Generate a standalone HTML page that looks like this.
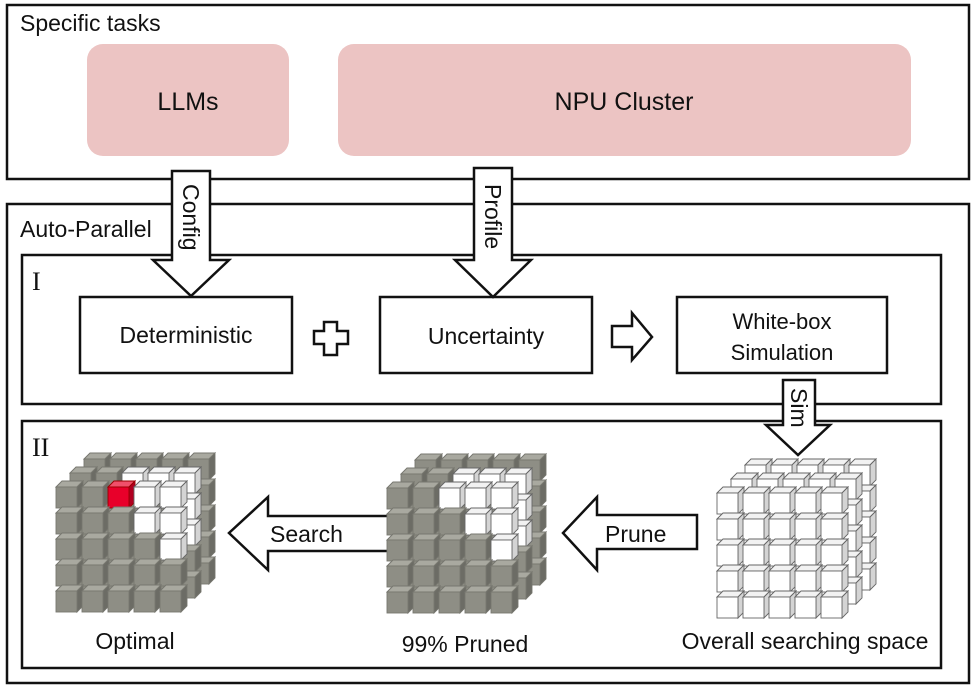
<!DOCTYPE html>
<html><head><meta charset="utf-8"><style>
html,body{margin:0;padding:0;background:#fff}
svg{display:block}
text{font-family:"Liberation Sans","DejaVu Sans",sans-serif;fill:#111}
</style></head><body>
<svg id="s" width="979" height="689" viewBox="0 0 979 689" xmlns="http://www.w3.org/2000/svg">
<g fill="none" stroke="#111" stroke-width="2.5">
<rect x="7" y="5" width="962" height="174"/>
<rect x="7" y="204" width="962" height="479"/>
<rect x="22" y="255" width="919" height="149"/>
<rect x="22" y="421" width="919" height="247"/>
</g>
<rect x="87" y="44" width="202" height="112" rx="16" fill="#ecc4c3"/>
<rect x="338" y="44" width="573" height="112" rx="16" fill="#ecc4c3"/>
<text x="188" y="110" font-size="25" text-anchor="middle">LLMs</text>
<text x="624" y="110" font-size="25" text-anchor="middle">NPU Cluster</text>
<text x="20" y="31" font-size="23">Specific tasks</text>
<text x="20" y="237" font-size="23">Auto-Parallel</text>
<text x="32" y="290" font-size="26" style="font-family:'Liberation Serif',serif">I</text>
<text x="32" y="456" font-size="26" style="font-family:'Liberation Serif',serif">II</text>
<g fill="#fff" stroke="#111" stroke-width="2.5">
<rect x="80" y="297" width="212" height="76"/>
<rect x="380" y="297" width="212" height="76"/>
<rect x="677" y="297" width="210" height="76"/>
<polygon points="172,171 210,171 210,260 229,260 191,296 153,260 172,260"/>
<polygon points="474,168 512,168 512,260 531,260 493,297 455,260 474,260"/>
<polygon points="783,380 815,380 815,425 830,425 798,455 766,425 783,425"/>
<polygon points="697,515 697,549 597,549 597,570 563,533 597,497 597,515"/>
<polygon points="393,516 393,551 268,551 268,570 229,533 268,497 268,516"/>
<polygon points="612,326 632,326 632,313 652,337 632,360 632,347 612,347"/>
<polygon points="324,322 337,322 337,331 348,331 348,344 337,344 337,355 324,355 324,344 314,344 314,331 324,331"/>
</g>
<text x="186" y="343" font-size="23" text-anchor="middle">Deterministic</text>
<text x="486" y="344" font-size="23" text-anchor="middle">Uncertainty</text>
<text x="782" y="329" font-size="22" text-anchor="middle">White-box</text>
<text x="782" y="360" font-size="22" text-anchor="middle">Simulation</text>
<text font-size="23" transform="translate(183,184) rotate(90)">Config</text>
<text font-size="23" transform="translate(485,184) rotate(90)">Profile</text>
<text font-size="23" transform="translate(791,388) rotate(90)">Sim</text>
<text x="605" y="542" font-size="23">Prune</text>
<text x="270" y="542" font-size="23">Search</text>
<text x="135" y="649" font-size="23" text-anchor="middle">Optimal</text>
<text x="465" y="652" font-size="23" text-anchor="middle">99% Pruned</text>
<text x="805" y="649" font-size="23" text-anchor="middle">Overall searching space</text>
<g id="cubes"></g>
</svg>
<script>
var g=document.getElementById('cubes'),h='';
function cube(x,y,c){
 var s=21,d=6,f,t,r,st;
 if(c=='g'){f='#8e8e85';t='#a9a9a0';r='#6c6c65';st='#77776f'}
 else if(c=='r'){f='#e8002a';t='#f0506a';r='#b00020';st='#900'}
 else {f='#fff';t='#f2f2f2';r='#d4d4d4';st='#666'}
 h+='<polygon points="'+x+','+y+' '+(x+d)+','+(y-d)+' '+(x+s+d)+','+(y-d)+' '+(x+s)+','+y+'" fill="'+t+'" stroke="'+st+'" stroke-width="0.9"/>';
 h+='<polygon points="'+(x+s)+','+y+' '+(x+s+d)+','+(y-d)+' '+(x+s+d)+','+(y+s-d)+' '+(x+s)+','+(y+s)+'" fill="'+r+'" stroke="'+st+'" stroke-width="0.9"/>';
 h+='<rect x="'+x+'" y="'+y+'" width="'+s+'" height="'+s+'" fill="'+f+'" stroke="'+st+'" stroke-width="0.9"/>';
}
function block(ox,oy,fn){
 for(var L=2;L>=0;L--){
  for(var r=0;r<5;r++)for(var c=0;c<5;c++){
   cube(ox+c*26+L*14,oy+r*26-L*14,fn(L,r,c));
  }
 }
}
function pat(L,r,c){
 if(L==2)return 'g';
 if(r==0&&c>=2)return 'w';
 if(r==1&&c>=(L==0?3:4))return 'w';
 if(r==2&&c==4)return 'w';
 return 'g';
}
block(56,487,function(L,r,c){if(L==0&&r==0&&c==2)return 'r';return pat(L,r,c)});
block(387,488,pat);
block(717,493,function(){return 'w'});
g.innerHTML=h;
</script>
</body></html>
